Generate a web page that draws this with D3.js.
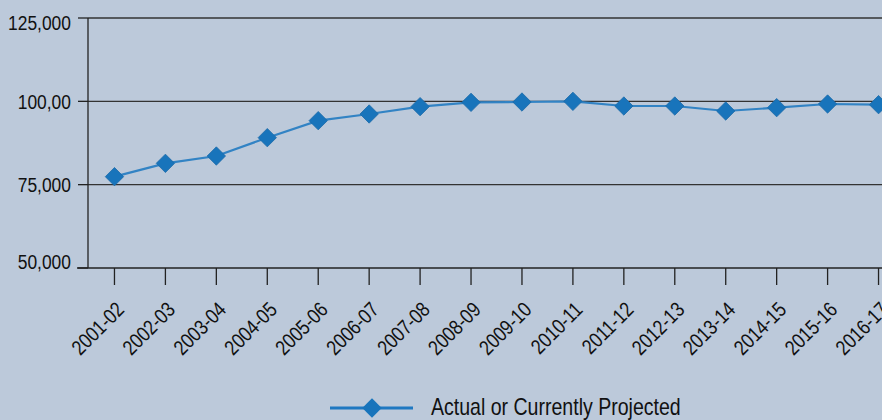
<!DOCTYPE html>
<html>
<head>
<meta charset="utf-8">
<script src="https://cdn.jsdelivr.net/npm/d3@7"></script>
<style>
  html, body { margin: 0; padding: 0; background: #bcc9da; }
  svg { display: block; }
  text { font-family: "Liberation Sans", Arial, sans-serif; fill: #111; }
</style>
</head>
<body>
<div id="chart"></div>
<script>
// school years
const years = ["2001-02", "2002-03", "2003-04", "2004-05", "2005-06", "2006-07", "2007-08", "2008-09",
  "2009-10", "2010-11", "2011-12", "2012-13", "2013-14", "2014-15", "2015-16", "2016-17"];
const projected = [77400, 81400, 83600, 89100, 94200, 96200, 98400, 99700,
  99800, 100000, 98600, 98600, 97100, 98100, 99200, 99000];
const yTicks = [50000, 75000, 100000, 125000];
const yTickLabels = ["50,000", "75,000", "100,00", "125,000"];
const legendLabel = "Actual or Currently Projected";

const width = 882, height = 420;
const narrow = 0.83; // condensed look of the original font

const svg = d3.select("#chart")
  .append("svg")
  .attr("width", width)
  .attr("height", height);

const x = d3.scalePoint()
  .domain(years)
  .range([89, 904])
  .padding(0.5);

const y = d3.scaleLinear()
  .domain([50000, 125000])
  .range([268, 18]);

// gridlines
svg.selectAll(".grid")
  .data(yTicks.slice(1))
  .enter()
  .append("line")
  .attr("x1", 88)
  .attr("x2", width)
  .attr("y1", d => y(d))
  .attr("y2", d => y(d))
  .attr("stroke", "#333")
  .attr("stroke-width", 1.3);

// y axis
svg.append("line")
  .attr("x1", 88).attr("x2", 88)
  .attr("y1", y(125000)).attr("y2", y(50000))
  .attr("stroke", "#222").attr("stroke-width", 1.3);

svg.selectAll(".ytick")
  .data(yTicks)
  .enter()
  .append("line")
  .attr("x1", 78).attr("x2", 88)
  .attr("y1", d => y(d)).attr("y2", d => y(d))
  .attr("stroke", "#222").attr("stroke-width", 1.3);

svg.selectAll(".ylabel")
  .data(yTicks)
  .enter()
  .append("text")
  .attr("transform", d => {
    const yy = Math.min(Math.max(y(d), y(125000) + 4), y(50000) - 7);
    return `translate(71,${yy}) scale(${narrow},1)`;
  })
  .attr("dy", "0.36em")
  .attr("text-anchor", "end")
  .attr("font-size", "21px")
  .text((d, i) => yTickLabels[i]);

// x axis
svg.append("line")
  .attr("x1", 77).attr("x2", width)
  .attr("y1", y(50000)).attr("y2", y(50000))
  .attr("stroke", "#222").attr("stroke-width", 1.3);

svg.selectAll(".xtick")
  .data(years)
  .enter()
  .append("line")
  .attr("x1", d => x(d)).attr("x2", d => x(d))
  .attr("y1", y(50000)).attr("y2", y(50000) + 17)
  .attr("stroke", "#222").attr("stroke-width", 1.3);

svg.selectAll(".xlabel")
  .data(years)
  .enter()
  .append("text")
  .attr("transform", d => `translate(${x(d) + 11},${y(50000) + 43}) rotate(-45) scale(${narrow},1)`)
  .attr("text-anchor", "end")
  .attr("font-size", "21px")
  .text(d => d);

// series
const line = d3.line()
  .x((d, i) => x(years[i]))
  .y(d => y(d));

svg.append("path")
  .datum(projected)
  .attr("d", line)
  .attr("fill", "none")
  .attr("stroke", "#3283c4")
  .attr("stroke-width", 2.2);

const diamond = d3.symbol().type(d3.symbolDiamond2).size(215);

svg.selectAll(".marker")
  .data(projected)
  .enter()
  .append("path")
  .attr("d", diamond)
  .attr("transform", (d, i) => `translate(${x(years[i])},${y(d)})`)
  .attr("fill", "#1874bb")
  .attr("stroke", "#1a6aa8")
  .attr("stroke-width", 0.8);

// legend
const legend = svg.append("g").attr("transform", "translate(330,408)");
legend.append("line")
  .attr("x1", 0).attr("x2", 83)
  .attr("stroke", "#1f78c1").attr("stroke-width", 3);
legend.append("path")
  .attr("d", d3.symbol().type(d3.symbolDiamond2).size(240))
  .attr("transform", "translate(42,0)")
  .attr("fill", "#1874bb");
legend.append("text")
  .attr("transform", "translate(101,7) scale(0.85,1)")
  .attr("font-size", "23px")
  .text(legendLabel);
</script>
</body>
</html>
